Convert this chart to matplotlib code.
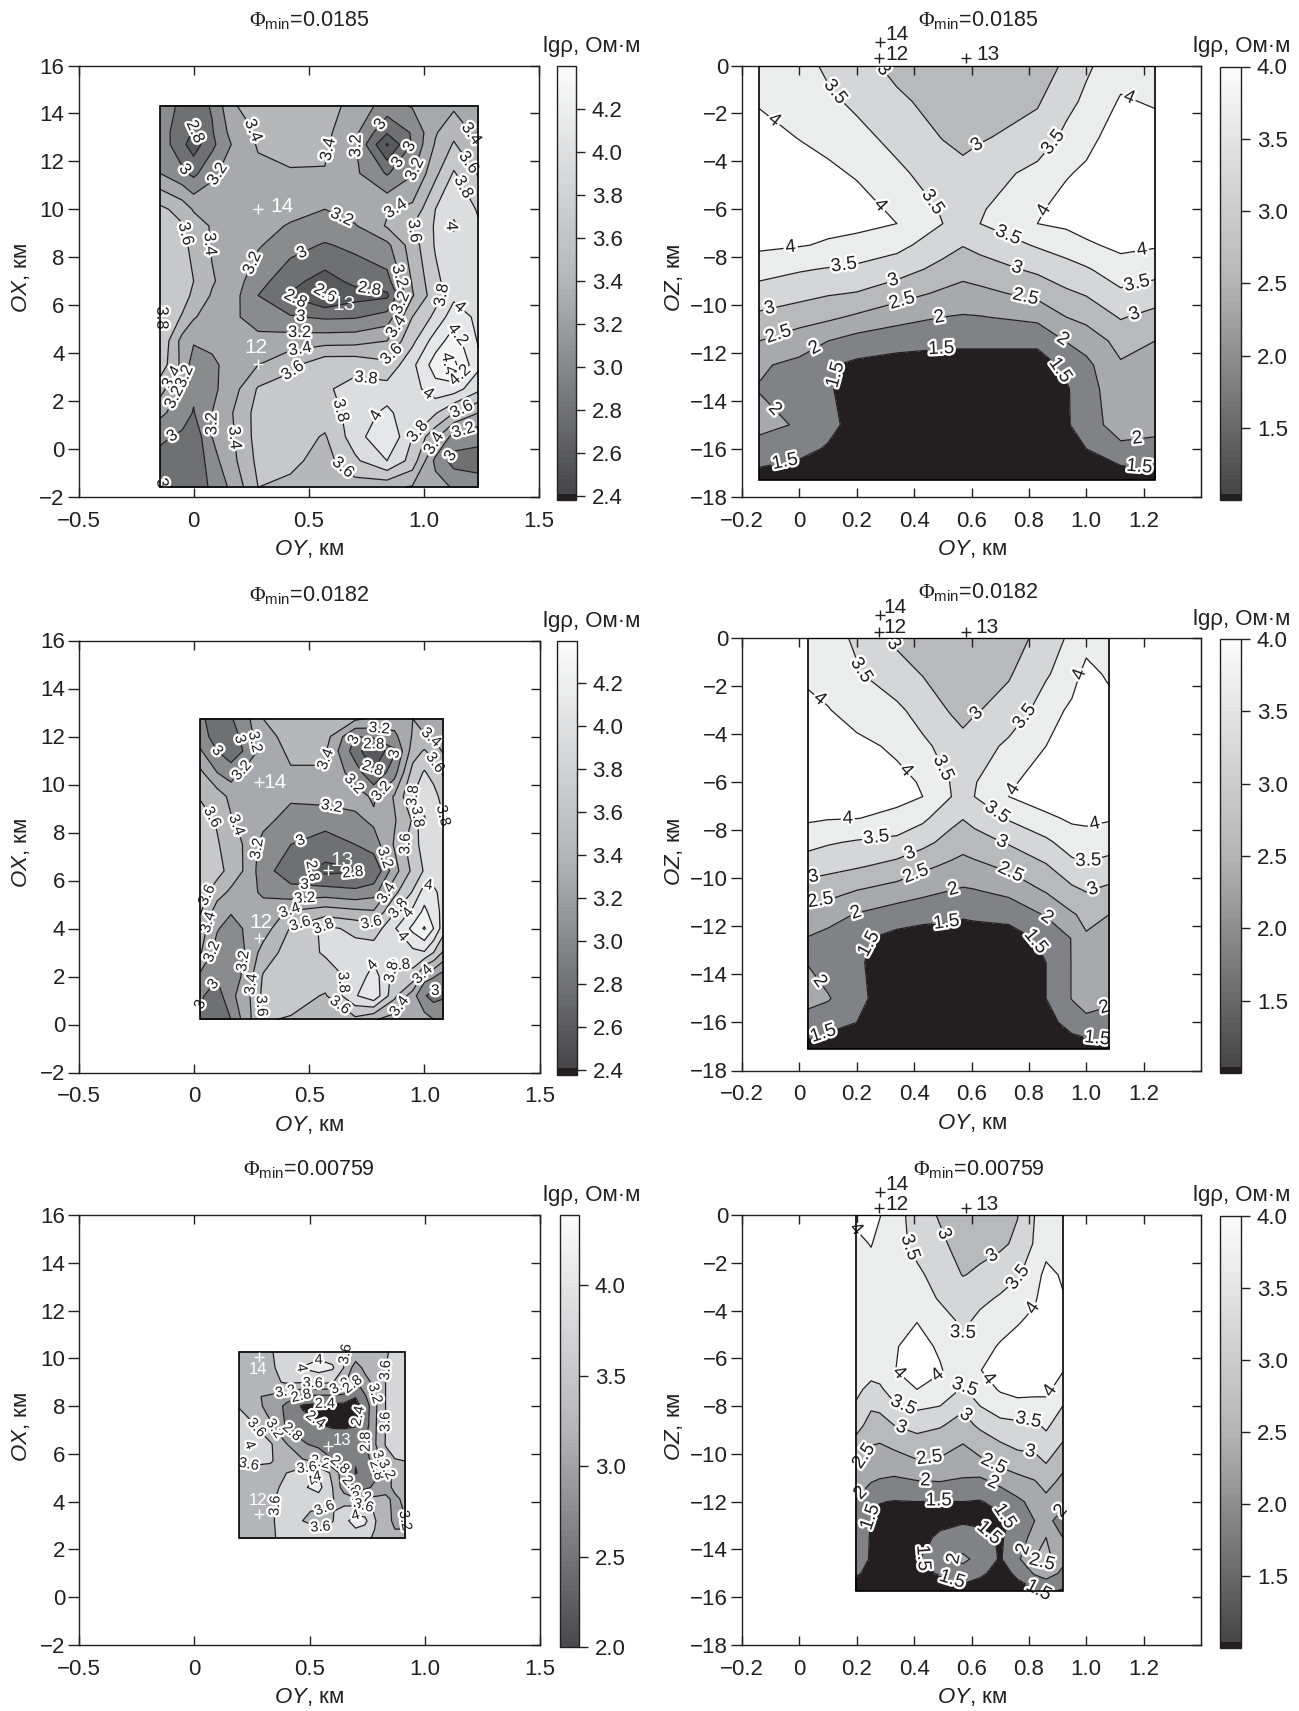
import numpy as np
import matplotlib
matplotlib.use('Agg')
import matplotlib.pyplot as plt
import matplotlib.patheffects as pe
from matplotlib.patches import Rectangle
from matplotlib.cm import ScalarMappable
from matplotlib.colors import BoundaryNorm, LinearSegmentedColormap

plt.rcParams['font.family'] = ['Liberation Sans', 'DejaVu Sans']
plt.rcParams['mathtext.fontset'] = 'custom'
plt.rcParams['mathtext.rm'] = 'Liberation Sans'
plt.rcParams['mathtext.it'] = 'Liberation Sans:italic'
plt.rcParams['mathtext.bf'] = 'Liberation Serif'

INK = '#231f20'
W, H = 1299, 1711

# ---------- panel L1 ---------- (values listed by column, top row first)
L1_Y = [-0.146, -0.05, 0.0, 0.08, 0.17, 0.28, 0.42, 0.57, 0.7, 0.84, 0.95, 1.05, 1.13, 1.237]
L1_X = [14.33, 13.2, 12.7, 11.5, 10, 9.3, 8.5, 7, 6.4, 5.5, 4.5, 3.5, 2.5, 1.5, 0.5, -0.5, -1.61]
L1_Z = [
 [3.12,3.1,3.13,3.2,3.65,3.68,3.7,3.72,3.75,3.82,3.78,3.72,3.48,3.25,3.03,2.95,3.03],
 [2.95,2.88,2.85,3.05,3.52,3.62,3.65,3.68,3.7,3.58,3.33,3.35,3.15,3.08,2.97,2.85,2.82],
 [2.9,2.78,2.7,2.95,3.38,3.5,3.55,3.6,3.55,3.42,3.22,3.1,3.03,2.99,2.85,2.82,2.82],
 [3.02,2.98,2.95,3.15,3.37,3.38,3.38,3.42,3.38,3.3,3.26,3.15,3.15,3.2,3.2,3.12,3.05],
 [3.38,3.28,3.22,3.32,3.38,3.35,3.32,3.3,3.28,3.25,3.32,3.3,3.32,3.4,3.38,3.35,3.25],
 [3.5,3.42,3.42,3.35,3.3,3.28,3.22,3.08,3.0,3.08,3.28,3.4,3.62,3.68,3.68,3.65,3.6],
 [3.52,3.5,3.48,3.38,3.27,3.18,3.08,2.86,2.78,3.02,3.3,3.55,3.7,3.72,3.7,3.65,3.55],
 [3.5,3.45,3.43,3.39,3.2,3.12,2.98,2.72,2.58,2.97,3.32,3.75,3.78,3.7,3.58,3.52,3.5],
 [3.32,3.25,3.22,3.24,3.3,3.18,3.05,2.85,2.72,2.98,3.33,3.75,3.85,3.88,3.9,3.76,3.5],
 [3.12,2.82,2.58,2.98,3.38,3.42,3.15,2.93,2.76,3.08,3.4,3.65,3.88,4.05,4.2,4.0,3.45],
 [3.22,3.02,3.02,3.18,3.45,3.6,3.5,3.42,3.38,3.6,3.75,3.95,3.92,3.85,3.8,3.72,3.38],
 [3.34,3.38,3.42,3.55,3.8,3.82,3.82,3.75,3.72,3.85,4.1,4.3,4.12,3.82,3.45,3.15,3.28],
 [3.36,3.55,3.62,3.82,3.95,4.03,3.92,3.92,3.95,4.12,4.3,4.45,4.1,3.6,3.12,2.92,3.18],
 [3.32,3.33,3.4,3.58,3.78,3.82,3.85,3.88,3.9,3.95,3.98,4.05,3.85,3.4,3.05,2.93,3.08],
]
L1_LABELS = [(.01,13.25),(-.02,11.8),(.12,11.35),(.244,13.2),(.606,12.45),(.67,12.6),(.81,13.55),(.94,12.6),
 (.87,12.07),(.95,11.7),(1.19,13.05),(1.18,11.85),(1.157,10.85),(1.11,9.3),(.88,9.94),(.96,9.1),(.64,9.6),
 (-.05,8.95),(.11,8.57),(.235,7.84),(.465,8.3),(.77,7.05),(.88,7.17),(.58,6.82),(.44,6.2),(.465,5.53),
 (.46,4.92),(.46,4.29),(.9,6.09),(.895,5),(1.08,6.41),(1.154,5.9),(1.148,4.77),(1.094,3.63),(1.17,2.95),
 (.86,3.94),(.75,3.1),(.42,3.37),(-.136,5.46),(-.108,3.05),(-.063,3.1),(-.063,2.04),(-.085,.41),(.087,1.05),
 (.157,.44),(.633,1.58),(.81,1.3),(.944,1),(1.016,2.26),(1.163,1.66),(1.17,.82),(1.03,.29),(1.12,-.32),
 (.633,-.96),(-.125,-1.4)]
L1_RECEIVERS = [('14',.28,10,.383,10.1),('13',.58,6.4,.655,6.02),('12',.28,3.55,.27,4.24)]

# ---------- panel L2 ----------
L2_Y = [.027,.1,.16,.22,.3,.42,.57,.7,.78,.87,.95,1.0,1.04,1.081]
L2_X = [12.73,12,11.4,10.5,9.5,8.5,7.5,6.4,5.5,4.7,4,3,2,1.2,.21]
L2_Z = [
 [3.02,3.1,3.22,3.44,3.58,3.7,3.75,3.8,3.7,3.62,3.5,3.42,3.15,3.03,2.95],
 [2.95,2.9,3.0,3.2,3.5,3.58,3.62,3.68,3.48,3.3,3.22,3.1,3.02,2.9,2.82],
 [2.98,2.86,2.88,3.1,3.35,3.42,3.5,3.52,3.36,3.22,3.1,3.08,3.1,3.15,3.0],
 [3.12,3.1,3.02,3.25,3.32,3.35,3.38,3.38,3.32,3.28,3.22,3.2,3.24,3.3,3.28],
 [3.4,3.32,3.28,3.32,3.3,3.27,3.12,3.08,3.15,3.33,3.3,3.48,3.62,3.65,3.62],
 [3.5,3.48,3.44,3.38,3.24,3.1,3.0,2.88,3.08,3.42,3.62,3.7,3.72,3.7,3.58],
 [3.5,3.48,3.42,3.39,3.27,3.08,2.9,2.75,3.1,3.5,3.85,3.82,3.72,3.58,3.52],
 [3.43,3.0,2.9,3.1,3.28,3.15,3.0,2.78,3.05,3.45,3.75,3.88,3.85,3.98,3.55],
 [3.36,3.05,2.6,2.82,3.17,3.24,3.1,2.82,3.12,3.42,3.68,3.92,4.1,4.15,3.42],
 [3.3,3.15,2.97,3.12,3.42,3.38,3.42,3.32,3.55,3.78,3.98,3.88,3.72,3.65,3.32],
 [3.4,3.42,3.5,3.68,3.8,3.62,3.72,3.65,3.82,4.05,4.25,3.95,3.72,3.28,3.3],
 [3.3,3.42,3.62,3.82,3.92,4.02,3.88,3.82,4.1,4.25,4.42,3.98,3.28,3.02,3.28],
 [3.28,3.38,3.5,3.72,3.88,3.9,3.88,3.88,4.05,4.1,4.2,3.8,3.22,2.92,3.2],
 [3.25,3.3,3.38,3.58,3.72,3.82,3.86,3.88,3.92,3.94,3.9,3.58,3.1,2.98,3.12],
]
L2_LABELS = [(.148,11.76),(.08,11.26),(.226,10.4),(.307,11.9),(.588,11.03),(.705,11.82),(.805,12.4),(.783,11.72),
 (.86,11.3),(.772,10.65),(.66,9.77),(.826,9.6),(.597,9.1),(1.02,11.8),(1.03,10.8),(.958,9.5),(.982,8.68),
 (1.07,8.53),(.072,8.6),(.18,8.3),(.295,7.31),(.46,7.73),(.895,7.58),(.48,6.78),(.814,6.9),(.48,5.91),
 (.69,6.12),(.48,5.26),(.823,5.56),(.872,4.95),(.416,4.7),(.46,4.2),(.56,4.12),(.772,4.38),(.93,4.65),
 (1.02,5.97),(.063,5.36),(.078,4.2),(.067,3.05),(.193,2.67),(.072,1.76),(.259,1.66),(.33,.8),(.054,.58),
 (.778,2.45),(.646,1.76),(.633,.8),(.877,.85),(.877,3.43),(.9,2.83),(.89,2.07),(.998,2.04),(1.052,1.61)]
L2_RECEIVERS = [('14',.28,10.12,.353,10.08),('13',.582,6.43,.642,6.82),('12',.28,3.59,.29,4.27)]

# ---------- panel L3 ---------- (listed by row)
L3_Y = [.195,.25,.33,.40,.47,.54,.6,.65,.7,.74,.79,.83,.87,.915]
L3_X = [10.27,9.6,9.0,8.4,8.0,7.2,6.4,5.7,5.2,4.6,4.1,3.6,3.2,2.85,2.47]
L3_Z = [
 [3.3,3.35,3.58,3.7,3.8,3.85,3.8,3.62,3.5,3.45,3.5,3.55,3.7,3.75],
 [3.3,3.35,3.55,3.72,4.02,4.15,4.05,3.58,3.0,3.3,3.4,3.6,3.75,3.72],
 [3.3,3.33,3.5,3.65,3.62,3.7,3.62,3.3,2.75,3.05,3.35,3.6,3.75,3.8],
 [3.3,3.25,3.15,2.95,2.75,2.7,2.72,2.7,2.42,2.75,3.2,3.6,3.72,3.8],
 [3.58,3.4,3.05,2.72,2.35,2.3,2.3,2.25,2.25,2.55,3.18,3.6,3.72,3.8],
 [3.75,3.65,3.25,2.75,2.6,2.42,2.35,2.35,2.38,2.6,3.2,3.6,3.75,3.8],
 [3.85,4.05,3.65,3.22,2.85,2.7,2.65,2.62,2.62,2.78,3.22,3.62,3.72,3.78],
 [3.6,3.75,3.65,3.35,3.25,3.15,2.82,2.62,2.42,2.62,3.0,3.45,3.58,3.6],
 [3.3,3.35,3.4,3.6,3.85,3.98,3.5,2.95,2.38,2.5,2.72,3.05,3.3,3.5],
 [3.3,3.32,3.42,3.75,3.95,4.12,3.6,3.0,2.7,2.7,2.9,3.12,3.25,3.4],
 [3.3,3.3,3.55,3.72,3.8,3.85,3.62,3.4,3.28,3.3,3.3,3.25,3.15,3.25],
 [3.3,3.3,3.55,3.72,3.62,3.58,3.58,3.75,3.88,3.85,3.5,3.35,3.1,3.22],
 [3.3,3.3,3.55,3.75,3.6,3.5,3.58,3.9,4.15,4.1,3.58,3.35,3.12,3.2],
 [3.3,3.3,3.55,3.72,3.75,3.62,3.72,3.82,3.98,3.9,3.55,3.35,3.2,3.2],
 [3.3,3.3,3.55,3.7,3.75,3.75,3.75,3.78,3.78,3.72,3.5,3.4,3.35,3.3],
]
L3_LABELS = [(.543,10.06),(.665,10.15),(.451,9.43),(.879,9.5),(.514,8.95),(.633,8.8),(.69,8.88),(.785,8.53),
 (.394,8.67),(.466,8.32),(.567,8.08),(.524,7.41),(.712,7.58),(.831,7.34),(.282,7.2),(.35,7.07),(.437,7.07),
 (.741,6.51),(.234,6.3),(.234,5.49),(.553,5.81),(.644,5.74),(.488,5.46),(.814,5.74),(.77,5.19),(.799,5.46),
 (.488,5.11),(.531,5.07),(.698,4.74),(.727,4.14),(.734,3.72),(.56,3.86),(.35,3.83),(.698,3.44),(.557,2.72),
 (.893,3.17)]
L3_RECEIVERS = [('14',.283,10.04,.276,9.52),('13',.58,6.35,.64,6.58),('12',.283,3.48,.276,4.04)]

# ---------- panel R1 ---------- (by column)
R1_Y = [-.14,0,.1,.2,.34,.5,.57,.63,.83,.93,1.0,1.12,1.24]
R1_Z_AXIS = [0,-1.5,-3,-4.5,-6,-6.6,-7.5,-8.5,-9.5,-10.5,-11.5,-12.5,-13.5,-15,-16,-17.3]
R1_Z = [
 [3.75,3.95,4.2,4.4,4.4,4.3,4.1,3.7,3.3,2.9,2.5,2.05,1.98,2.15,1.8,1.3],
 [3.7,3.85,3.98,4.25,4.3,4.25,4.03,3.55,3.15,2.75,2.2,1.9,1.85,1.95,1.65,1.2],
 [3.4,3.6,3.85,4.1,4.2,4.12,3.95,3.47,3.05,2.6,2.0,1.55,1.55,1.65,1.45,1.1],
 [3.2,3.4,3.65,3.95,4.2,4.12,3.85,3.4,2.98,2.42,1.8,1.4,1.3,1.3,1.2,1.1],
 [2.85,3.1,3.35,3.6,3.9,4.0,3.65,3.22,2.72,2.17,1.7,1.3,1.25,1.25,1.2,1.1],
 [2.6,2.8,2.98,3.25,3.45,3.5,3.2,2.85,2.42,2.0,1.6,1.3,1.25,1.25,1.2,1.1],
 [2.5,2.65,2.85,3.15,3.35,3.28,3.02,2.68,2.33,1.96,1.6,1.3,1.2,1.2,1.2,1.1],
 [2.55,2.75,2.95,3.25,3.45,3.5,3.15,2.78,2.38,1.98,1.6,1.3,1.25,1.25,1.2,1.1],
 [2.7,2.95,3.2,3.65,3.93,4.0,3.55,3.1,2.65,2.13,1.6,1.3,1.25,1.25,1.2,1.1],
 [3.1,3.35,3.62,3.95,4.2,4.1,3.72,3.32,2.92,2.5,2.02,1.6,1.45,1.45,1.3,1.1],
 [3.42,3.6,3.82,4.1,4.35,4.2,3.92,3.45,3.05,2.65,2.2,1.88,1.75,1.7,1.5,1.1],
 [3.8,4.05,4.3,4.5,4.4,4.3,4.12,3.78,3.42,3.04,2.67,2.45,2.4,2.3,1.85,1.2],
 [3.8,3.95,4.2,4.4,4.4,4.3,4.05,3.67,3.28,2.83,2.5,2.4,2.35,2.15,1.85,1.3],
]
R1_LABELS = [(.281,-.29),(.115,-1.2),(-.102,-2.5),(.62,-3.33),(.9,-3.36),(1.15,-1.32),(.476,-5.6),(.289,-5.76),
 (.876,-6.2),(.729,-7.05),(-.03,-7.66),(.152,-8.04),(1.196,-7.84),(.758,-8.45),(.323,-8.8),(1.176,-9.07),
 (-.105,-10.06),(.356,-9.74),(.789,-9.64),(.489,-10.58),(1.172,-10.52),(-.076,-11.1),(.049,-11.69),(.494,-11.76),
 (.919,-11.41),(.931,-12.57),(.12,-12.9),(-.095,-14.45),(1.179,-15.67),(1.186,-16.66),(-.05,-16.55)]
R1_RECEIVERS = [('14',.28,1.0,.339,1.3),('12',.277,.32,.339,.44),('13',.58,.32,.657,.44)]

# ---------- panel R2 ----------
R2_Y = [.03,.1,.2,.34,.43,.53,.57,.61,.73,.86,.95,1.0,1.081]
R2_Z_AXIS = [0,-1.5,-3,-4.5,-6,-6.6,-7.5,-8.5,-9.5,-10.5,-11.5,-12.5,-13.5,-15,-16,-17.1]
R2_Z = [
 [3.75,3.85,4.2,4.4,4.35,4.25,4.08,3.65,3.25,2.75,2.25,1.98,1.98,2.2,1.75,1.35],
 [3.7,3.75,4.03,4.3,4.35,4.28,4.03,3.55,3.15,2.7,2.2,1.85,1.7,2.05,1.65,1.25],
 [3.42,3.55,3.75,4.15,4.35,4.25,4.01,3.45,3.05,2.5,1.97,1.58,1.55,1.58,1.5,1.2],
 [2.9,3.2,3.6,3.9,4.15,4.1,3.9,3.35,2.85,2.3,1.75,1.35,1.3,1.3,1.25,1.1],
 [2.7,2.98,3.3,3.6,3.95,4.0,3.6,3.15,2.6,2.15,1.65,1.3,1.25,1.25,1.2,1.1],
 [2.55,2.8,2.95,3.3,3.47,3.5,3.15,2.8,2.4,2.0,1.6,1.3,1.2,1.2,1.2,1.1],
 [2.5,2.7,2.85,3.15,3.3,3.25,3.02,2.68,2.33,1.95,1.55,1.3,1.2,1.2,1.2,1.1],
 [2.55,2.78,2.95,3.25,3.47,3.5,3.15,2.8,2.38,1.98,1.58,1.3,1.2,1.2,1.2,1.1],
 [2.7,2.95,3.2,3.6,3.9,4.0,3.55,3.05,2.6,2.15,1.65,1.3,1.25,1.25,1.2,1.1],
 [3.25,3.45,3.72,4.0,4.3,4.25,3.9,3.4,2.95,2.55,2.05,1.6,1.5,1.5,1.3,1.1],
 [3.6,3.75,4.12,4.4,4.5,4.4,4.08,3.75,3.35,2.9,2.45,2.02,2.02,2.02,1.72,1.2],
 [3.75,4.2,4.4,4.5,4.5,4.4,4.1,3.8,3.43,3.03,2.62,2.45,2.4,2.25,1.85,1.25],
 [3.75,3.9,4.2,4.4,4.4,4.3,4.05,3.68,3.35,2.88,2.5,2.4,2.35,2.1,1.8,1.35],
]
R2_LABELS = [(.327,-.27),(.219,-1.33),(.065,-2.62),(.975,-1.52),(.8,-3.41),(.611,-3.06),(.5,-5.42),(.378,-5.45),
 (.748,-6.33),(.684,-7.35),(.169,-7.53),(1.03,-7.77),(.269,-8.41),(.705,-8.52),(.385,-8.94),(1.004,-9.14),
 (.406,-9.82),(.738,-9.73),(.05,-10),(1.022,-10.42),(.536,-10.45),(.075,-11.06),(.2,-11.52),(.512,-11.71),
 (.86,-11.67),(.846,-12.5),(.19,-12.58),(.071,-14.29),(1.066,-15.45),(.082,-16.41),(1.04,-16.47)]
R2_RECEIVERS = [('14',.28,.95,.334,1.29),('12',.277,.26,.334,.42),('13',.582,.26,.654,.42)]

# ---------- panel R3 ----------
R3_Y = [.197,.25,.28,.33,.41,.49,.57,.63,.7,.76,.82,.86,.918]
R3_Z_AXIS = [0,-1.2,-2.5,-3.5,-4.5,-5.5,-6.5,-7.3,-8,-8.8,-9.5,-10.4,-11.2,-12,-12.8,-13.5,-14.4,-15,-15.73]
R3_Z = [
 [4.1,3.9,3.8,3.8,3.8,3.8,3.75,3.6,3.45,3.15,2.9,2.58,2.25,1.95,1.75,1.65,1.6,1.55,1.3],
 [4.2,4.02,3.85,3.8,3.8,3.82,3.65,3.38,3.05,2.85,2.55,2.25,2.0,1.55,1.48,1.48,1.48,1.4,1.15],
 [4.02,3.88,3.82,3.8,3.8,3.85,3.7,3.42,3.1,2.82,2.52,2.2,1.95,1.52,1.35,1.3,1.25,1.2,1.1],
 [3.75,3.72,3.78,3.85,3.9,3.95,3.98,3.72,3.42,3.0,2.65,2.25,1.88,1.48,1.3,1.25,1.2,1.15,1.1],
 [3.25,3.35,3.6,3.78,4.0,4.2,4.25,4.0,3.6,3.15,2.85,2.42,1.95,1.5,1.3,1.3,1.4,1.35,1.1],
 [2.95,3.1,3.3,3.45,3.75,3.92,4.05,3.8,3.5,3.05,2.75,2.4,1.98,1.48,1.35,1.6,1.85,1.55,1.15],
 [2.7,2.8,2.98,3.3,3.42,3.6,3.65,3.45,3.1,2.8,2.52,2.3,1.9,1.5,1.45,1.7,2.1,1.8,1.3],
 [2.75,2.85,3.08,3.4,3.62,3.8,3.98,3.75,3.5,3.1,2.75,2.38,1.85,1.47,1.4,1.65,1.85,1.6,1.2],
 [2.85,2.9,3.3,3.55,3.8,4.05,4.3,4.05,3.75,3.35,3.0,2.6,2.1,1.65,1.38,1.45,1.45,1.3,1.15],
 [2.98,3.1,3.45,3.75,3.95,4.3,4.45,4.2,3.8,3.4,3.15,2.75,2.3,1.9,1.62,1.7,1.9,1.6,1.3],
 [3.5,3.55,3.7,3.9,4.2,4.4,4.5,4.2,3.75,3.42,3.15,2.85,2.45,2.15,2.0,2.2,2.5,2.05,1.45],
 [3.65,3.72,4.2,4.4,4.5,4.5,4.5,4.12,3.85,3.58,3.35,3.0,2.68,2.35,2.1,2.5,2.7,2.2,1.6],
 [3.7,3.8,3.92,4.05,4.2,4.15,4.03,3.75,3.5,3.25,3.0,2.65,2.35,2.1,1.85,2.0,2.1,1.92,1.45],
]
R3_LABELS = [(.209,-.36),(.486,-.88),(.385,-1.36),(.684,-1.93),(.756,-2.55),(.803,-3.79),(.56,-5.51),(.352,-6.55),
 (.483,-6.73),(.651,-6.93),(.586,-7.15),(.878,-7.4),(.366,-7.87),(.576,-8.42),(.356,-8.87),(.798,-8.79),
 (.226,-10.1),(.452,-9.99),(.803,-10.03),(.68,-10.36),(.44,-11),(.67,-11.33),(.219,-11.7),(.486,-12.04),
 (.716,-12.6),(.903,-12.3),(.24,-12.63),(.651,-13.49),(.781,-13.99),(.533,-14.24),(.421,-14.31),(.839,-14.72),
 (.53,-15.35),(.85,-15.6)]
R3_RECEIVERS = [('14',.28,.98,.339,1.28),('12',.277,.31,.339,.43),('13',.582,.31,.654,.43)]

# ---------- levels, ticks, texts ----------
LEVELS_FINE = [0,2.6,2.8,3.0,3.2,3.4,3.6,3.8,4.0,4.2,4.4,9]
COLORS_FINE = ['#2e2b2c','#58595b','#6f7072','#8a8b8d','#a7a9ac','#b5b7b9','#c7c8ca','#dcddde','#e6e7e8','#f1f2f2','#f9f9f9']
LEVELS_L3 = [0,2.4,2.8,3.2,3.6,4.0,9]
COLORS_L3 = [INK,'#7f8082','#9d9fa2','#b3b5b8','#d5d6d8','#eaebec']
LEVELS_R = [0,1.5,2.0,2.5,3.0,3.5,4.0,9]
COLORS_R = [INK,'#808285','#a7a9ac','#b7b9bb','#d5d6d8','#ebecec','#ffffff']

LEFT_XT = [-0.5,0,0.5,1.0,1.5]
LEFT_XL = ['\u22120.5','0','0.5','1.0','1.5']
LEFT_YT = [-2,0,2,4,6,8,10,12,14,16]
LEFT_YL = ['\u22122','0','2','4','6','8','10','12','14','16']
RIGHT_XT = [-0.2,0,0.2,0.4,0.6,0.8,1.0,1.2]
RIGHT_XL = ['\u22120.2','0','0.2','0.4','0.6','0.8','1.0','1.2']
RIGHT_YT = [-18,-16,-14,-12,-10,-8,-6,-4,-2,0]
RIGHT_YL = ['\u221218','\u221216','\u221214','\u221212','\u221210','\u22128','\u22126','\u22124','\u22122','0']
CB_FINE_T = [2.4,2.6,2.8,3.0,3.2,3.4,3.6,3.8,4.0,4.2]
CB_L3_T = [2.0,2.5,3.0,3.5,4.0]
CB_R_T = [1.5,2.0,2.5,3.0,3.5,4.0]
TITLES = ['0.0185','0.0182','0.00759']
UNIT_LABEL = 'lg\u03c1, \u041e\u043c\u00b7\u043c'
KM = ', \u043a\u043c'

CB_CMAP = LinearSegmentedColormap.from_list('cb', [(0,INK),(0.006,INK),(0.008,'#464648'),(0.5,'#b3b5b7'),(1,'#fbfbfb')])
CB_CMAP_L3 = LinearSegmentedColormap.from_list('cb3', [(0,'#4a4a4c'),(0.5,'#b3b5b7'),(1,'#fbfbfb')])

fs = 16

def axes_px(l, t, r, b):
    return fig.add_axes([l/W, 1-b/H, (r-l)/W, (b-t)/H])

def colorbar(px, vmin, vmax, ticks, cmap):
    cax = axes_px(*px)
    norm = BoundaryNorm(np.linspace(vmin, vmax, 71), 256)
    cb = fig.colorbar(ScalarMappable(norm=norm, cmap=cmap), cax=cax)
    cb.set_ticks(ticks)
    cb.set_ticklabels([f'{t:.1f}' for t in ticks])
    cb.minorticks_off()
    cax.tick_params(length=6.5, width=1, labelsize=fs, pad=5, color=INK, labelcolor=INK)
    cb.outline.set_edgecolor(INK)
    cb.outline.set_linewidth(1)
    return cb

def panel(px, xlim, ylim, xt, xl, yt, yl, ys, xs, z, levels, colors, labels, recv,
          lab_fs, recv_fs, recv_col):
    ax = axes_px(*px)
    ax.set_xlim(*xlim); ax.set_ylim(*ylim)
    ax.contourf(ys, xs, z, levels=levels, colors=colors)
    cs = ax.contour(ys, xs, z, levels=levels[1:-1], colors=INK, linewidths=0.9)
    txts = ax.clabel(cs, fmt=lambda v: f'{v:g}', fontsize=lab_fs, colors=INK, inline=True,
                     inline_spacing=1, manual=labels)
    halo = [pe.withStroke(linewidth=3.5, foreground='white')]
    for t in (txts or cs.labelTexts):
        t.set_path_effects(halo)
    ax.add_patch(Rectangle((min(ys), min(xs)), max(ys)-min(ys), max(xs)-min(xs), fill=False, ec='black', lw=1.2, zorder=5))
    for name, mx, my, tx, ty in recv:
        ax.plot([mx], [my], '+', color=recv_col, ms=7, mew=1, clip_on=False, zorder=6)
        ax.text(tx, ty, name, color=recv_col, fontsize=recv_fs, ha='center', va='center', clip_on=False, zorder=6)
    ax.set_xticks(xt); ax.set_xticklabels(xl)
    ax.set_yticks(yt); ax.set_yticklabels(yl)
    ax.tick_params(axis='x', direction='in', top=True, length=6.5, width=1, labelsize=fs, pad=10, color=INK, labelcolor=INK)
    ax.tick_params(axis='y', direction='out', length=8, width=1, labelsize=fs, pad=2, color=INK, labelcolor=INK)
    sec = ax.secondary_yaxis('right')
    sec.set_yticks(yt); sec.set_yticklabels([])
    sec.tick_params(direction='in', length=6.5, width=1, color=INK)
    sec.spines['right'].set_color(INK)
    for s in ax.spines.values():
        s.set_edgecolor(INK); s.set_linewidth(1)
    return ax

def ftext(x, y, s, size=fs, rot=0):
    fig.text(x/W, 1-y/H, s, fontsize=size, ha='center', va='center', color=INK, rotation=rot)

fig = plt.figure(figsize=(W/100, H/100), dpi=100)

LEFT_PANELS = [
 ((78.5,65.5,539,496.7), (556.5,65.5,576,500), L1_Y, L1_X, np.array(L1_Z).T, L1_LABELS, L1_RECEIVERS, LEVELS_FINE, COLORS_FINE, 12, 15, (2.38,4.4), CB_FINE_T, CB_CMAP),
 ((79,640.5,539.5,1072.5), (557,640.5,576.5,1074.5), L2_Y, L2_X, np.array(L2_Z).T, L2_LABELS, L2_RECEIVERS, LEVELS_FINE, COLORS_FINE, 11, 15, (2.38,4.4), CB_FINE_T, CB_CMAP),
 ((79,1215,540,1645), (559.5,1215,579,1647), L3_Y, L3_X, np.array(L3_Z), L3_LABELS, L3_RECEIVERS, LEVELS_L3, COLORS_L3, 10.5, 12, (2.0,4.39), CB_L3_T, CB_CMAP_L3),
]
RIGHT_PANELS = [
 ((742,65.5,1201,496.7), (1220,66.5,1241,500), R1_Y, R1_Z_AXIS, np.array(R1_Z).T, R1_LABELS, R1_RECEIVERS),
 ((742,638,1201,1070.5), (1220,639,1241,1073), R2_Y, R2_Z_AXIS, np.array(R2_Z).T, R2_LABELS, R2_RECEIVERS),
 ((742,1215,1201,1645), (1220,1216,1241,1648), R3_Y, R3_Z_AXIS, np.array(R3_Z).T, R3_LABELS, R3_RECEIVERS),
]

for i, p in enumerate(LEFT_PANELS):
    px, cpx, ys, xs, z, lab, rec, lev, col, lf, rf, crange, cticks, cmap = p
    panel(px, (-0.5,1.5), (-2,16), LEFT_XT, LEFT_XL, LEFT_YT, LEFT_YL, ys, xs, z, lev, col, lab, rec, lf, rf, 'white')
    colorbar(cpx, crange[0], crange[1], cticks, cmap)
    top, bot = px[1], px[3]
    ftext(309, top-45, r'$\mathbf{\Phi}_{\mathrm{min}}$=' + TITLES[i], 15.5)
    ftext(592, top-19, UNIT_LABEL, 16)
    ftext(309, bot+52, r'$\mathit{OY}$' + KM, fs)
    ftext(20.5, (top+bot)/2-3, r'$\mathit{OX}$' + KM, fs, 90)

for i, p in enumerate(RIGHT_PANELS):
    px, cpx, ys, zs, z, lab, rec = p
    panel(px, (-0.2,1.4), (-18,0), RIGHT_XT, RIGHT_XL, RIGHT_YT, RIGHT_YL, ys, zs, z, LEVELS_R, COLORS_R, lab, rec, 13.5, 15, INK)
    colorbar(cpx, 1.0, 4.0, CB_R_T, CB_CMAP)
    top, bot = px[1], px[3]
    ftext(978.5, top-45, r'$\mathbf{\Phi}_{\mathrm{min}}$=' + TITLES[i], 15.5)
    ftext(1242, top-19, UNIT_LABEL, 16)
    ftext(972, bot+52, r'$\mathit{OY}$' + KM, fs)
    ftext(674, (top+bot)/2-3, r'$\mathit{OZ}$' + KM, fs, 90)

fig.savefig('out.png', dpi=100)
